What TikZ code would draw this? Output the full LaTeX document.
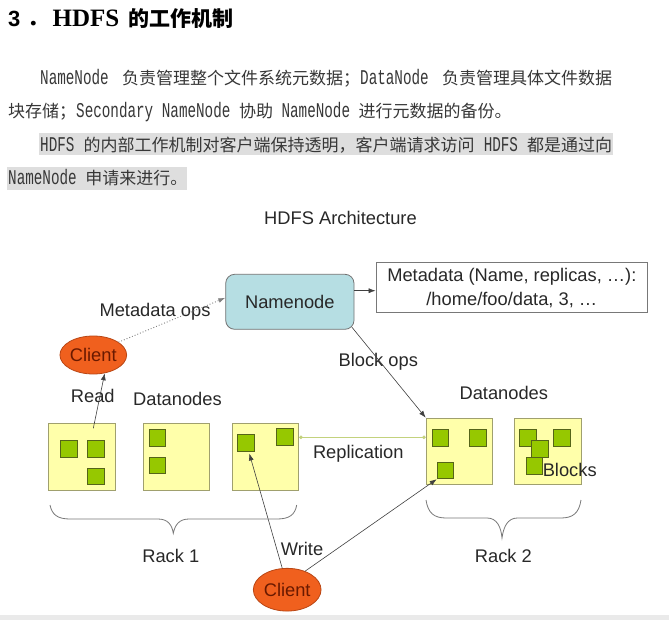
\documentclass[tikz,border=0pt]{standalone}
\usepackage{fontspec}
\usetikzlibrary{arrows.meta,shapes.geometric}
\setmainfont{Liberation Sans}
\newfontfamily\cjk{Noto Sans CJK SC}
\newfontfamily\latmono[FakeStretch=0.68]{Liberation Mono}
\newfontfamily\serifb{Liberation Serif}
\XeTeXlinebreaklocale "zh"
\XeTeXlinebreakskip=0pt plus 3pt
\newcommand\TxL[1]{{\latmono\fontsize{21}{24}\selectfont #1}}
\newcommand\TxC[1]{{\cjk\fontsize{17}{20}\selectfont #1}}
\definecolor{txt}{RGB}{40,40,40}
\definecolor{ptxt}{RGB}{55,55,55}
\definecolor{hl}{RGB}{222,222,222}
\definecolor{nnfill}{RGB}{182,222,227}
\definecolor{nnborder}{RGB}{115,115,115}
\definecolor{mdborder}{RGB}{120,120,120}
\definecolor{dnfill}{RGB}{255,255,170}
\definecolor{dnborder}{RGB}{160,160,110}
\definecolor{blkfill}{RGB}{150,200,0}
\definecolor{blkborder}{RGB}{85,100,25}
\definecolor{clfill}{RGB}{240,96,30}
\definecolor{clborder}{RGB}{185,70,20}
\definecolor{cltext}{RGB}{105,25,0}
\definecolor{arr}{RGB}{64,64,64}
\definecolor{dotarr}{RGB}{130,130,130}
\definecolor{repl}{RGB}{195,210,125}
\definecolor{braceclr}{RGB}{120,120,120}
\definecolor{band}{RGB}{234,234,234}
\tikzset{
  lbl/.style={font=\fontsize{18.3}{22}\selectfont, text=txt, inner sep=0pt, anchor=base},
  para/.style={inner sep=0pt, anchor=base west, text=ptxt},
  dn/.style={draw=dnborder, fill=dnfill, line width=0.8pt, minimum width=66.7pt, minimum height=66.7pt, inner sep=0pt, anchor=north west},
  blk/.style={draw=blkborder, fill=blkfill, line width=0.8pt, minimum size=16.7pt, inner sep=0pt, anchor=north west},
  client/.style={ellipse, draw=clborder, fill=clfill, line width=0.8pt, inner sep=0pt, text=cltext, font=\fontsize{18.3}{22}\selectfont},
  conn/.style={draw=arr, line width=0.6pt, -{Latex[length=7pt,width=5pt]}},
  dotconn/.style={draw=dotarr, line width=0.9pt, dotted, -{Latex[length=7pt,width=5pt]}},
  replconn/.style={draw=repl, line width=0.8pt, {Circle[length=3.5pt]}-{Circle[length=3.5pt]}},
  bracestyle/.style={draw=braceclr, line width=0.8pt},
}
\begin{document}
\begin{tikzpicture}[x=1pt,y=-1pt]
\useasboundingbox (0,0) rectangle (669,620);
\fill[white] (0,0) rectangle (669,620);
\fill[band] (0,615) rectangle (669,620);

% heading
\node[inner sep=0pt, anchor=base west] (h3) at (8,26.5) {\fontsize{22}{24}\selectfont\bfseries 3};
\node[inner sep=0pt, anchor=base west] (hdot) at (27,26.5) {\cjk\bfseries\fontsize{21}{24}\selectfont ．};
\node[inner sep=0pt, anchor=base west] (hhdfs) at (52.5,26.5) {\serifb\bfseries\fontsize{25}{28}\selectfont HDFS};
\node[inner sep=0pt, anchor=base west] (hcn) at (128,26.5) {\cjk\bfseries\fontsize{21}{24}\selectfont 的工作机制};

% paragraph
\fill[hl] (39,132.7) rectangle (612.7,155);
\fill[hl] (7,166.7) rectangle (187.3,190);
\node[para] (p1) at (40,85) {\makebox[572pt][s]{\TxL{NameNode }\TxC{负责管理整个文件系统元数据；}\TxL{DataNode }\TxC{负责管理具体文件数据}}};
\node[para] (p2) at (8,118) {\TxC{块存储；}\TxL{Secondary NameNode }\TxC{协助}\TxL{ NameNode }\TxC{进行元数据的备份。}};
\node[para] (p3) at (40,151.5) {\makebox[572pt][s]{\TxL{HDFS }\TxC{的内部工作机制对客户端保持透明，客户端请求访问}\TxL{ HDFS }\TxC{都是通过向}}};
\node[para] (p4) at (8,184.5) {\TxL{NameNode }\TxC{申请来进行。}};

% title
\node[lbl] (title) at (340.5,224.5) {HDFS Architecture};

% namenode and metadata
\node[draw=nnborder, fill=nnfill, line width=0.8pt, rounded corners=9pt, minimum width=128.3pt, minimum height=55pt, inner sep=0pt, font=\fontsize{18.3}{22}\selectfont, text=txt] (nn) at (289.85,301.8) {Namenode};
\node[draw=mdborder, fill=white, line width=0.8pt, minimum width=271.7pt, minimum height=50pt, inner sep=0pt, align=center, font=\fontsize{18.3}{24}\selectfont, text=txt] (md) at (511.85,287.7) {Metadata (Name, replicas, …):\\/home/foo/data, 3, …};

% clients
\node[client, minimum width=66.7pt, minimum height=38pt] (c1) at (93.3,355) {Client};
\node[client, minimum width=67.7pt, minimum height=42.7pt] (c2) at (287.2,589.7) {Client};

% datanodes
\node[dn] (b1) at (48.3,423) {};
\node[dn] (b2) at (142.7,423) {};
\node[dn] (b3) at (231.7,423) {};
\node[dn] (b4) at (425.7,417.7) {};
\node[dn] (b5) at (514.3,417.7) {};

% blocks
\node[blk] (s11) at (60,440) {};
\node[blk] (s12) at (87.3,440) {};
\node[blk] (s13) at (87.3,467.7) {};
\node[blk] (s21) at (148.7,429) {};
\node[blk] (s22) at (148.7,456.7) {};
\node[blk] (s31) at (237.3,434) {};
\node[blk] (s32) at (276,428.3) {};
\node[blk] (s41) at (431.7,429) {};
\node[blk] (s42) at (469.3,429) {};
\node[blk] (s43) at (436.7,461.7) {};
\node[blk] (s51) at (519.3,429.3) {};
\node[blk] (s52) at (553.3,429.3) {};
\node[blk] (s53) at (531,440) {};
\node[blk] (s54) at (525.7,457.3) {};

% labels
\node[lbl] (lmo) at (155,316.5) {Metadata ops};
\node[lbl] (lbo) at (378.3,366) {Block ops};
\node[lbl] (lread) at (92.8,402.7) {Read};
\node[lbl] (ldn1) at (177.5,405.7) {Datanodes};
\node[lbl] (ldn2) at (503.8,399.3) {Datanodes};
\node[lbl] (lrep) at (358.3,458.3) {Replication};
\node[lbl] (lblk) at (569.7,476.7) {Blocks};
\node[lbl] (lr1) at (170.8,562.3) {Rack 1};
\node[lbl] (lr2) at (503.4,562.3) {Rack 2};
\node[lbl] (lw) at (302,555) {Write};

% connectors
\coordinate (r1) at (93.3,428.3);
\draw[conn] (r1) -- (c1.-58);
\draw[dotconn] (c1.27) -- ([yshift=4pt]nn.west);
\draw[conn] (nn.east |- 0,290.7) -- (md.west |- 0,290.7);
\draw[conn] ([shift={(-2.5pt,2.5pt)}]nn.south east) -- (b4.north west);
\draw[replconn] (b3.east |- 0,437.3) -- (b4.west |- 0,437.3);
\draw[conn] (c2.103) -- ([shift={(3.3pt,-2pt)}]s31.south);
\draw[conn] (c2.46) -- (s43.south west);

% braces
\draw[bracestyle] (50,505) .. controls (52,515) and (58,519) .. (70,519) -- (158,519) .. controls (168,519) and (172,525) .. (173.3,533.3) .. controls (175,525) and (179,519) .. (189,519) -- (277,519) .. controls (289,519) and (295,515) .. (296.7,505);
\draw[bracestyle] (426,500) .. controls (428,513) and (434,518) .. (446,518) -- (487,518) .. controls (497,518) and (501,527) .. (502,538) .. controls (503.5,527) and (507.5,518) .. (517.5,518) -- (561,518) .. controls (573,518) and (579,513) .. (581,500);
\end{tikzpicture}
\end{document}
